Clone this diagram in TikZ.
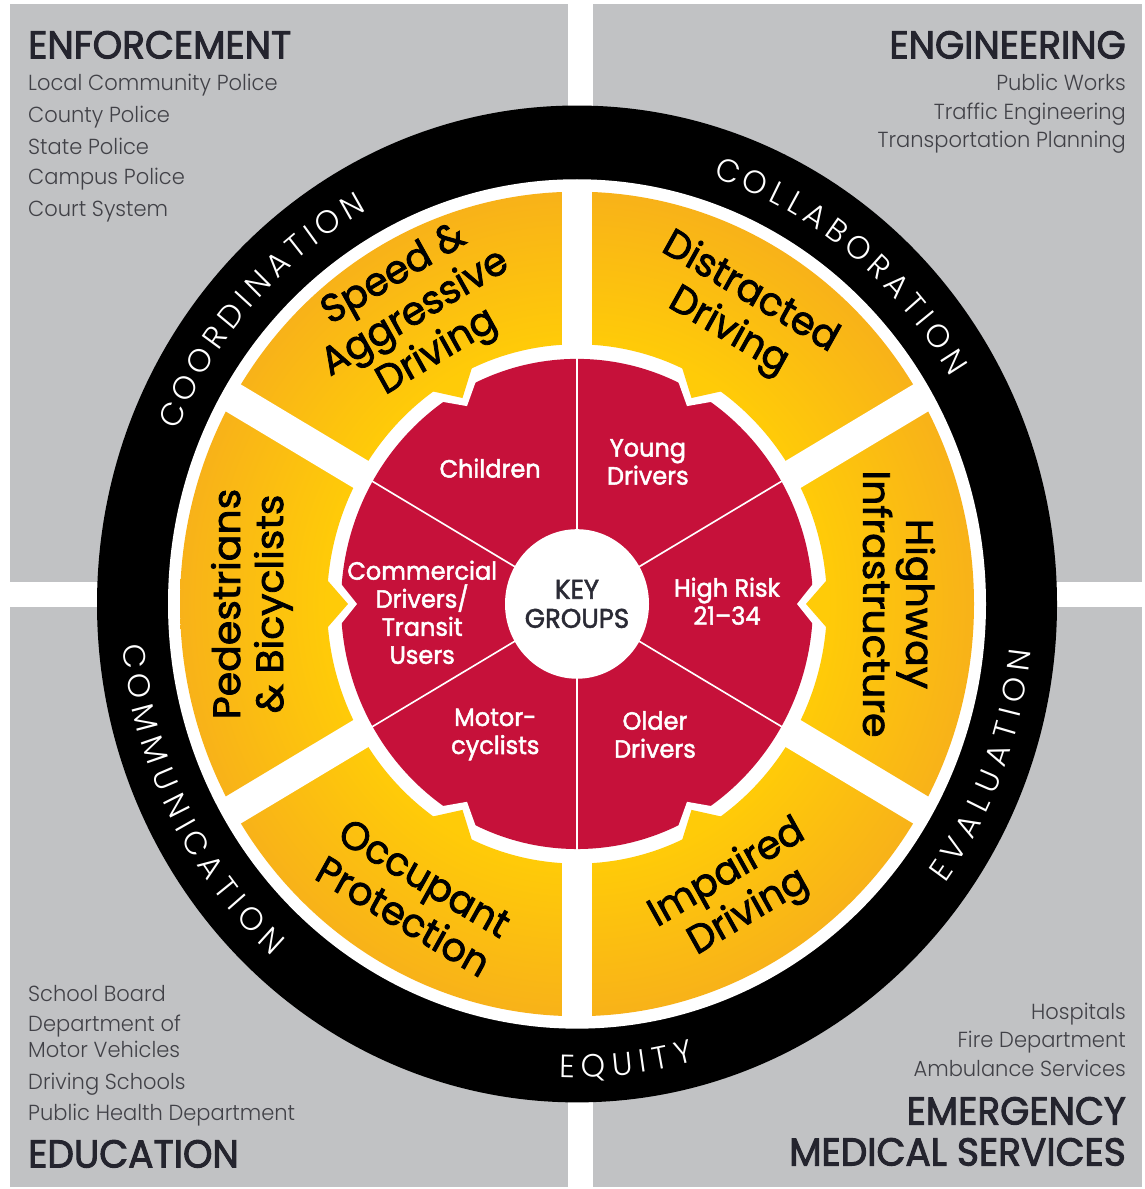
\documentclass[tikz,border=0pt]{standalone}
\usepackage{fontspec}
\setmainfont{Poppins}
\newfontfamily\semib[FakeBold=2]{Poppins}
\newfontfamily\headf[FakeBold=2.5]{Poppins}
\IfFontExistsTF{Poppins Light}{%
  \newfontfamily\ringfam{Poppins Light}%
  \newfontfamily\itemfam{Poppins Light}%
}{%
  \newfontfamily\ringfam{Poppins}%
  \newfontfamily\itemfam{Poppins}%
}
\definecolor{grayq}{HTML}{C1C2C4}
\definecolor{yin}{HTML}{FFCB08}
\definecolor{yout}{HTML}{F8B219}
\definecolor{redk}{HTML}{C6113A}
\definecolor{headc}{HTML}{24242E}
\definecolor{itemc}{HTML}{414147}
\definecolor{keyc}{HTML}{2A2A35}
\pgfdeclareradialshading{yring}{\pgfpoint{0bp}{0bp}}{color(0bp)=(yin); color(15.7bp)=(yin); color(25bp)=(yout); color(50bp)=(yout)}
\newcommand\ringf{\ringfam\fontsize{31}{34}\selectfont}
% #1 name, #2 baseline radius, #3 mid angle, #4 direction (+1 ccw, -1 cw), #5 total width, #6 letter/width list
\newcommand\ringword[6]{%
  \foreach \ch/\w [count=\k, remember=\nx as \cx (initially 0), evaluate=\nx using \cx+\w*31+5] in {#6}{%
    \pgfmathsetmacro\rwang{#3+(#4)*(\cx+\w*15.5-0.5*#5)/444*180/pi}%
    \pgfmathsetmacro\rwrot{\rwang+(#4)*90}%
    \node[ringlet, anchor=base, rotate=\rwrot] (#1\k) at (\rwang:#2) {\ch};
  }%
}
\tikzset{
  itemtxt/.style={inner sep=0pt, text=itemc, font=\itemfam\fontsize{21}{24}\selectfont},
  headtxt/.style={inner sep=0pt, text=headc, font=\headf\fontsize{37.5}{40}\selectfont},
  ylab/.style={inner sep=0pt, align=center, text=black, font=\semib\fontsize{38}{43}\selectfont},
  rlab/.style={inner sep=0pt, align=center, text=white, font=\semib\fontsize{24}{27}\selectfont},
  keyl/.style={inner sep=0pt, align=center, text=keyc, font=\semib\fontsize{26}{28}\selectfont},
  ringlet/.style={inner sep=0pt, text=white, font=\ringf},
  gapband/.style={white, line width=30pt},
  redline/.style={white, line width=1.6pt}
}
\begin{document}
\begin{tikzpicture}[x=1pt,y=1pt]
\useasboundingbox (0,0) rectangle (1145,1189);
\fill[white] (0,0) rectangle (1145,1189);
\begin{scope}[transform canvas={yscale=1.0384}]
  % quadrants
  \fill[grayq] (10,584.6) rectangle (568,1141.2);
  \fill[grayq] (593,584.6) rectangle (1142,1141.2);
  \fill[grayq] (10,1.9) rectangle (568,560.5);
  \fill[grayq] (593,1.9) rectangle (1142,560.5);
  % quadrant texts
  \node[headtxt, anchor=base west] (enf) at (28,1088.7) {ENFORCEMENT};
  \foreach \t/\y [count=\i] in {Local Community Police/1057.4, County Police/1026.6, State Police/996.7, Campus Police/966.9, Court System/936.1}
    \node[itemtxt, anchor=base west] (enf\i) at (28,\y) {\t};
  \node[headtxt, anchor=base east] (eng) at (1126,1088.7) {ENGINEERING};
  \foreach \t/\y [count=\i] in {Public Works/1057.4, Traffic Engineering/1029.5, Transportation Planning/1002.5}
    \node[itemtxt, anchor=base east] (eng\i) at (1126,\y) {\t};
  \foreach \t/\y [count=\i] in {School Board/181.0, Department of/151.2, Motor Vehicles/126.2, Driving Schools/96.3, Public Health Department/66.4}
    \node[itemtxt, anchor=base west] (edu\i) at (28,\y) {\t};
  \node[headtxt, anchor=base west] (edu) at (28,20.7) {EDUCATION};
  \foreach \t/\y [count=\i] in {Hospitals/162.8, Fire Department/135.8, Ambulance Services/107.9}
    \node[itemtxt, anchor=base east] (ems\i) at (1126,\y) {\t};
  \node[headtxt, anchor=base east] (ems) at (1126,62.1) {EMERGENCY};
  \node[headtxt, anchor=base east] (ems0) at (1126,22.6) {MEDICAL SERVICES};
  % wheel
  \begin{scope}[shift={(577,563.4)}]
    \fill[black] (0,0) circle (480);
    \fill[white] (0,0) circle (409);
    \shade[shading=yring, even odd rule] (0,0) circle (397) (0,0) circle (250);
    \foreach \a in {30,90,...,330} \draw[gapband] (0,0) -- (\a:405);
    \fill[redk] (0,0) circle (236);
    \foreach \a in {0,60,...,300} {
      \fill[white] (\a-7.5:249) -- (\a:220) -- (\a+7.5:249) -- cycle;
      \fill[yin] (\a-5.5:252) -- (\a:229) -- (\a+5.5:252) -- cycle;
    }
    \foreach \a in {30,90,...,330} \draw[redline] (\a:70) -- (\a:237);
    \fill[white] (0,0) circle (72);
    % ring texts
    \ringword{coord}{433}{138}{-1}{296.8}{C/.72,O/.80,O/.80,R/.62,D/.74,I/.26,N/.76,A/.70,T/.58,I/.26,O/.80,N/.76}
    \ringword{colla}{433}{50.8}{-1}{319.8}{C/.72,O/.80,L/.50,L/.50,A/.70,B/.64,O/.80,R/.62,A/.70,T/.58,I/.26,O/.80,N/.76}
    \ringword{evalu}{456}{-20.9}{1}{239.1}{E/.56,V/.68,A/.70,L/.50,U/.72,A/.70,T/.58,I/.26,O/.80,N/.76}
    \ringword{equit}{456}{-83.6}{1}{135.4}{E/.56,Q/.80,U/.72,I/.26,T/.58,Y/.64}
    \ringword{commu}{456}{206.7}{1}{334.0}{C/.72,O/.80,M/.88,M/.88,U/.72,N/.76,I/.26,C/.72,A/.70,T/.58,I/.26,O/.80,N/.76}
    % yellow labels
    \node[ylab, rotate=30] (speed) at (120:322) {Speed \&\\Aggressive\\Driving};
    \node[ylab, rotate=-30] (distr) at (60:324) {Distracted\\Driving};
    \node[ylab, rotate=-90] (highw) at (0:322) {Highway\\Infrastructure};
    \node[ylab, rotate=90] (pedes) at (180:325) {Pedestrians\\\& Bicyclists};
    \node[ylab, rotate=-30] (occup) at (240:326) {Occupant\\Protection};
    \node[ylab, rotate=30] (impai) at (300:322) {Impaired\\Driving};
    % red labels
    \node[rlab] (child) at (123.6:157) {Children};
    \node[rlab] (young) at (62.6:154) {Young\\Drivers};
    \node[rlab] (highr) at (1:150) {High Risk\\21\textendash34};
    \node[rlab] (older) at (301.8:148) {Older\\Drivers};
    \node[rlab] (motor) at (237:150) {Motor-\\cyclists};
    \node[rlab] (comme) at (183:155) {Commercial\\Drivers/\\Transit\\Users};
    \node[keyl] (key) at (0,0) {KEY\\GROUPS};
  \end{scope}
\end{scope}
\end{tikzpicture}
\end{document}
